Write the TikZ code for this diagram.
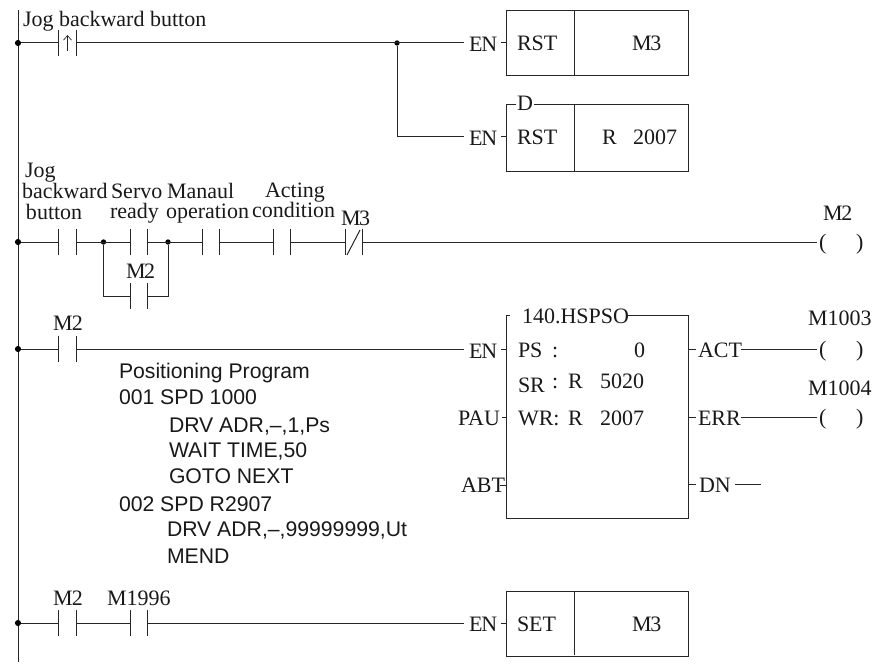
\documentclass[tikz,border=0pt]{standalone}
\usepackage{fontspec}
\usetikzlibrary{arrows.meta}
\setmainfont{Liberation Serif}
\newfontfamily\armfont{Liberation Sans}
\tikzset{
  txt/.style={anchor=base west,inner sep=0pt,outer sep=0pt,font=\fontsize{16.5}{18}\selectfont,text=black!90},
  prog/.style={anchor=base west,inner sep=0pt,outer sep=0pt,font=\armfont\fontsize{15.9}{17}\selectfont,text=black!90},
  contactnode/.style={inner sep=0pt,outer sep=0pt,minimum width=13pt,minimum height=20pt,rectangle},
  dotnode/.style={circle,fill=black,inner sep=0pt,minimum size=4.6pt,outer sep=0pt},
  fbox/.style={draw,rectangle,minimum width=136.5pt,minimum height=48.75pt,inner sep=0pt,outer sep=0pt,anchor=north west}
}
\newcommand{\contactbars}[3]{%
  \node[contactnode] (#1) at (#2,#3) {};
  \draw (#1.north west) -- (#1.south west);
  \draw (#1.north east) -- (#1.south east);
}
\begin{document}
\begin{tikzpicture}[x=.75pt,y=-.75pt,line width=.75pt,color=black!85]
\useasboundingbox (0,0) rectangle (880,663);
% power rail
\coordinate (railtop) at (18,10);
\coordinate (railbot) at (18,662);
\draw (railtop) -- (railbot);
\node[dotnode] (d1) at (18,43) {};
\node[dotnode] (d2) at (18,242) {};
\node[dotnode] (d3) at (18,349) {};
\node[dotnode] (d4) at (18,623) {};
% rung 1
\contactbars{c1}{67.5}{43}
\draw[-{Straight Barb[length=3.5pt,width=6pt]},line width=.5pt] (67.5,51) -- (67.5,35);
\node[dotnode,minimum size=4pt] (j1) at (397,43) {};
\coordinate (en1) at (464,43);
\coordinate (en2) at (464,137);
\draw (d1) -- (c1.west);
\draw (c1.east) -- (en1);
\draw (j1) -- (397,137) -- (en2);
\node[txt] (t1) at (23,27) {Jog backward button};
\node[txt] (en1t) at (469,52) {E\kern-.8pt N};
\draw (501,43) -- (506,43);
\node[fbox] (b1) at (506,11) {};
\draw (574,11) -- (574,76);
\node[txt] (b1a) at (517,51) {RST};
\node[txt] (b1b) at (632,51) {M\kern-1pt 3};
% rung 1 box 2
\node[txt] (en2t) at (469,146) {E\kern-.8pt N};
\draw (501,137) -- (506,137);
\coordinate (b2nw) at (506,105);
\coordinate (b2ne) at (688,105);
\coordinate (b2se) at (688,171);
\coordinate (b2sw) at (506,171);
\draw (516,105) -- (b2nw) -- (b2sw) -- (b2se) -- (b2ne) -- (534,105);
\draw (574,105) -- (574,171);
\node[txt] (b2d) at (517,111) {D};
\node[txt] (b2a) at (517,145) {RST};
\node[txt] (b2b) at (602,145) {R};
\node[txt] (b2c) at (633,145) {2007};
% rung 2
\contactbars{c2}{67.5}{242}
\contactbars{c3}{139}{242}
\contactbars{c4}{211}{242}
\contactbars{c5}{282}{242}
\contactbars{c6}{354}{242}
\draw (347,255) -- (360,230);
\contactbars{c7}{139}{296}
\node[dotnode,minimum size=4pt] (j2) at (103.5,242) {};
\node[dotnode,minimum size=4pt] (j3) at (168,242) {};
\coordinate (coilL) at (817,242);
\draw (d2) -- (c2.west);
\draw (c2.east) -- (c3.west);
\draw (c3.east) -- (c4.west);
\draw (c4.east) -- (c5.west);
\draw (c5.east) -- (c6.west);
\draw (c6.east) -- (coilL);
\draw (j2) |- (c7.west);
\draw (j3) |- (c7.east);
\node[txt] at (25,177) (l1) {Jog};
\node[txt] at (22,198) (l2) {backward};
\node[txt] at (26,219) (l3) {button};
\node[txt] at (111,198) (l4) {Servo};
\node[txt] at (110,218) (l5) {ready};
\node[txt] at (167,198) (l6) {Manaul};
\node[txt] at (166,218) (l7) {operation};
\node[txt] at (265,197) (l8) {Acting};
\node[txt] at (252,217) (l9) {condition};
\node[txt] at (341,225) (l10) {M\kern-1pt 3};
\node[txt] at (126,278) (l11) {M\kern-1pt 2};
\node[txt] at (823,220) (l12) {M\kern-1pt 2};
\node[txt] at (819,249) (p1) {(};
\node[txt] at (856,249) (p2) {)};
% rung 3
\contactbars{c8}{67.5}{349}
\coordinate (en3) at (464,349);
\draw (d3) -- (c8.west);
\draw (c8.east) -- (en3);
\node[txt] at (53,330) (l13) {M\kern-.5pt 2};
\node[txt] (en3t) at (469,358) {E\kern-.8pt N};
\draw (501,349) -- (506,349);
\node[txt] (pau) at (458,425) {PAU};
\draw (502,417) -- (506,417);
\node[txt] (abt) at (461,492) {ABT};
\draw (500,485) -- (506,485);
\coordinate (b3nw) at (506,315);
\coordinate (b3ne) at (688,315);
\coordinate (b3se) at (688,518);
\coordinate (b3sw) at (506,518);
\draw (510,315) -- (b3nw) -- (b3sw) -- (b3se) -- (b3ne) -- (628,315);
\node[txt] at (522,323) (title) {140.HSPSO};
\node[txt] at (518,357) (r1) {PS};
\node[txt] at (552,357) (r1a) {:};
\node[txt] at (634,357) (r1b) {0};
\node[txt] at (518,392) (r2) {SR};
\node[txt] at (552,388) (r2a) {:};
\node[txt] at (568,388) (r2b) {R};
\node[txt] at (600,388) (r2c) {5020};
\node[txt] at (518,425) (r3) {WR:};
\node[txt] at (568,425) (r3b) {R};
\node[txt] at (600,425) (r3c) {2007};
\draw (688,349) -- (696,349);
\draw (688,417) -- (696,417);
\draw (688,484) -- (696,484);
\node[txt] at (698,357) (act) {ACT};
\node[txt] at (698,425) (err) {ERR};
\node[txt] at (699,492) (dn) {DN};
\coordinate (c1003) at (817,349);
\coordinate (c1004) at (817,417);
\coordinate (dnend) at (761,484);
\draw (741,349) -- (c1003);
\draw (741,417) -- (c1004);
\draw (735,484) -- (dnend);
\node[txt] at (808,325) (m1003) {M1003};
\node[txt] at (808,395) (m1004) {M1004};
\node[txt] at (819,356) (p3) {(};
\node[txt] at (856,356) (p4) {)};
\node[txt] at (819,424) (p5) {(};
\node[txt] at (856,424) (p6) {)};
% program text
\node[prog] at (119,378) (q1) {Positioning Program};
\node[prog] at (119,404) (q2) {001 SPD 1000};
\node[prog] at (169,432) (q3) {DRV ADR,–,1,Ps};
\node[prog] at (169,457) (q4) {WAIT TIME,50};
\node[prog] at (169,483) (q5) {GOTO NEXT};
\node[prog] at (119,511) (q6) {002 SPD R2907};
\node[prog] at (167,536) (q7) {DRV ADR,–,99999999,Ut};
\node[prog] at (167,563) (q8) {MEND};
% rung 4
\contactbars{c9}{67.5}{623}
\contactbars{c10}{139}{623}
\coordinate (en4) at (464,623);
\draw (d4) -- (c9.west);
\draw (c9.east) -- (c10.west);
\draw (c10.east) -- (en4);
\node[txt] at (53,605) (l14) {M\kern-.5pt 2};
\node[txt] at (107,605) (l15) {M1996};
\node[txt] (en4t) at (469,631) {E\kern-.8pt N};
\draw (501,623) -- (506,623);
\node[fbox] (b4) at (506,591) {};
\draw (574,591) -- (574,655);
\node[txt] (b4a) at (517,631) {SET};
\node[txt] (b4b) at (632,631) {M\kern-1pt 3};
\end{tikzpicture}
\end{document}
